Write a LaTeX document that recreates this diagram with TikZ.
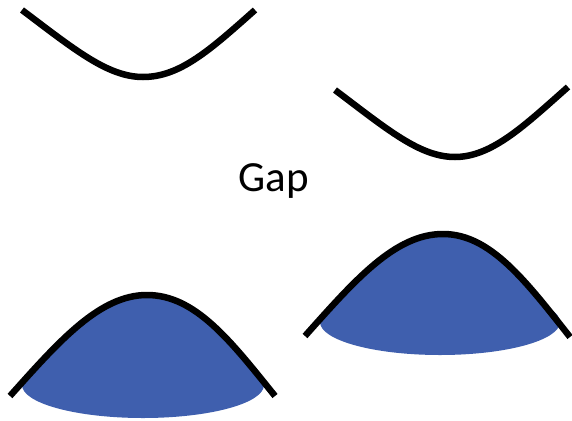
\documentclass[tikz,border=0pt]{standalone}
\usepackage{fontspec}
\setmainfont{Carlito}
\definecolor{vband}{RGB}{63,95,174}
\tikzset{band/.style={line width=6.5pt,black},
  bandfill/.style={fill=vband}}
\begin{document}
\begin{tikzpicture}[x=1pt,y=-1pt]
\useasboundingbox (0,0) rectangle (572,420);
% valence band fills (left)
\fill[bandfill] (143,385) ellipse [x radius=121, y radius=33];
\begin{scope}
\clip (0,0) rectangle (572,385);
\fill[bandfill] (10,396) .. controls (60,340) and (100,295) .. (147,295) .. controls (195,295) and (230,340) .. (275,396) -- cycle;
\end{scope}
% valence band fills (right)
\fill[bandfill] (440,322) ellipse [x radius=120, y radius=33];
\begin{scope}
\clip (0,0) rectangle (572,322);
\fill[bandfill] (305,336) .. controls (355,280) and (395,234) .. (443,234) .. controls (490,234) and (525,280) .. (570,337) -- cycle;
\end{scope}
% conduction bands
\draw[band] (22,10) .. controls (75,50) and (108,77) .. (143,77) .. controls (180,77) and (210,50) .. (255,10);
\draw[band] (335,90) .. controls (388,130) and (420,157) .. (455,157) .. controls (492,157) and (525,125) .. (568,87);
% valence band curves
\draw[band] (10,396) .. controls (60,340) and (100,295) .. (147,295) .. controls (195,295) and (230,340) .. (275,396);
\draw[band] (305,336) .. controls (355,280) and (395,234) .. (443,234) .. controls (490,234) and (525,280) .. (570,337);
\node[font=\fontsize{43}{50}\selectfont, inner sep=0pt] (gap) at (274,181) {Gap};
\end{tikzpicture}
\end{document}
